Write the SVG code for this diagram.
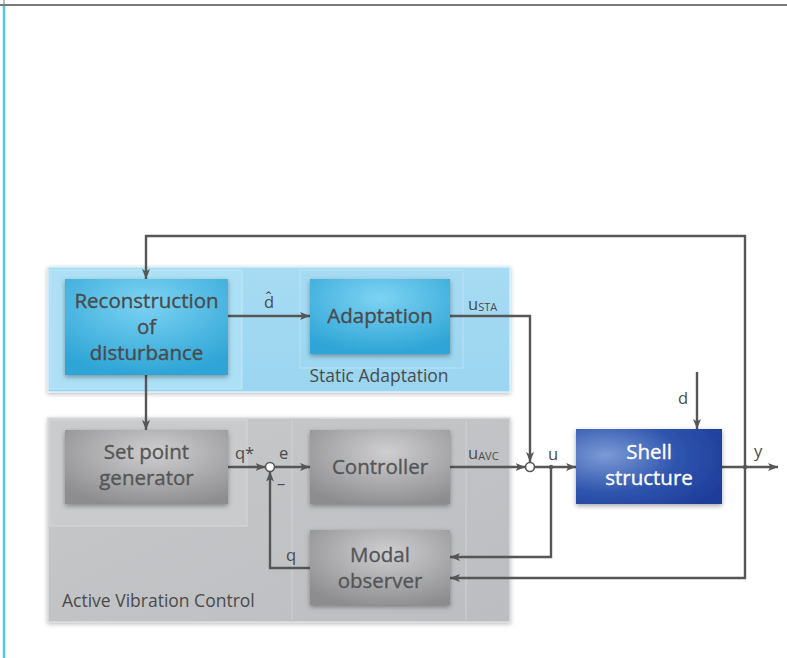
<svg xmlns="http://www.w3.org/2000/svg" width="787" height="658" viewBox="0 0 787 658">
  <style>
    .lbl { font-family: "Open Sans", "DejaVu Sans", sans-serif; fill: #4a4a4a; }
    .box { font-size: 20.5px; text-anchor: middle; stroke: #4a4a4a; stroke-width: 0.35; }
    .gbox { fill: #555555; stroke: #555555; }
    .wbox { fill: #ffffff; stroke: #ffffff; }
    .sig { font-size: 16.5px; }
    .sub { font-size: 11px; }
    .panel { font-size: 17.5px; }
    .wire-a { fill: none; stroke: #565656; stroke-width: 2.4; marker-end: url(#arr); }
    .sum { fill: #ffffff; stroke: #565656; stroke-width: 1.6; }
  </style>
  <defs>
    <marker id="arr" viewBox="0 0 10 8" refX="10" refY="4" markerWidth="10" markerHeight="8" markerUnits="userSpaceOnUse" orient="auto">
      <path d="M0,0 L10,4 L0,8 L2.5,4 Z" fill="#565656"/>
    </marker>
    <filter id="shadow" x="-20%" y="-20%" width="140%" height="150%">
      <feDropShadow dx="0" dy="2" stdDeviation="2.5" flood-color="#000" flood-opacity="0.35"/>
    </filter>
    <filter id="pshadow" x="-5%" y="-5%" width="110%" height="115%">
      <feDropShadow dx="0" dy="1.5" stdDeviation="2" flood-color="#000" flood-opacity="0.25"/>
    </filter>
    <radialGradient id="gBlue" cx="0.5" cy="0.25" r="0.75">
      <stop offset="0" stop-color="#7dd3f3"/>
      <stop offset="1" stop-color="#2ea5d6"/>
    </radialGradient>
    <radialGradient id="gGray" cx="0.55" cy="0.3" r="0.75">
      <stop offset="0" stop-color="#cfcfd1"/>
      <stop offset="1" stop-color="#8d8d90"/>
    </radialGradient>
    <radialGradient id="gShell" cx="0.2" cy="0.35" r="0.9">
      <stop offset="0" stop-color="#7c9ad6"/>
      <stop offset="0.55" stop-color="#2f55ae"/>
      <stop offset="1" stop-color="#1f3c9a"/>
    </radialGradient>
    <linearGradient id="gPanelBlue" x1="0" y1="0" x2="0" y2="1">
      <stop offset="0" stop-color="#a7dbf3"/>
      <stop offset="1" stop-color="#9bd5f0"/>
    </linearGradient>
    <linearGradient id="gPanelGray" x1="0" y1="0" x2="1" y2="1">
      <stop offset="0" stop-color="#c8c9cb"/>
      <stop offset="1" stop-color="#bcbdc0"/>
    </linearGradient>
  </defs>

  <!-- page frame -->
  <line x1="0" y1="5" x2="787" y2="5" stroke="#7a7a7a" stroke-width="2"/>
  <line x1="4" y1="0" x2="4" y2="5" stroke="#7a7a7a" stroke-width="1"/>
  <line x1="4" y1="6" x2="4" y2="658" stroke="#4ec6ee" stroke-width="2.5"/>

  <!-- Static Adaptation panel -->
  <g id="panel-static">
    <rect x="48" y="267" width="462" height="125" fill="url(#gPanelBlue)" stroke="#d8effa" stroke-width="1.5" filter="url(#pshadow)"/>
    <rect x="50" y="270" width="192" height="119" fill="#ade0f5" stroke="#bfe7f8" stroke-width="1"/>
    <rect x="300" y="270" width="163" height="98" fill="none" stroke="#b6e3f7" stroke-width="1"/>
    <text class="lbl panel" x="379" y="382" text-anchor="middle">Static Adaptation</text>
  </g>

  <!-- Active Vibration Control panel -->
  <g id="panel-avc">
    <rect x="48" y="418" width="462" height="204" fill="url(#gPanelGray)" stroke="#dcdcde" stroke-width="1.5" filter="url(#pshadow)"/>
    <rect x="50" y="420" width="197" height="106" fill="#cacbcd" stroke="#d6d7d9" stroke-width="1"/>
    <line x1="292" y1="420" x2="292" y2="620" stroke="#d0d1d3" stroke-width="1"/>
    <line x1="466" y1="420" x2="466" y2="620" stroke="#d0d1d3" stroke-width="1"/>
    <text class="lbl panel" x="62" y="607">Active Vibration Control</text>
  </g>

  <!-- connectors -->
  <g id="connectors">
    <!-- y feedback to reconstruction -->
    <polyline class="wire-a" points="745,467 745,236 146,236 146,279"/>
    <!-- reconstruction to set point generator -->
    <line class="wire-a" x1="146" y1="375" x2="146" y2="430"/>
    <!-- d-hat -->
    <line class="wire-a" x1="228" y1="316" x2="310" y2="316"/>
    <!-- u_STA -->
    <polyline class="wire-a" points="450,316 530,316 530,462"/>
    <!-- q* -->
    <line class="wire-a" x1="228" y1="467" x2="265.5" y2="467"/>
    <!-- e -->
    <line class="wire-a" x1="274.5" y1="467" x2="310" y2="467"/>
    <!-- q feedback -->
    <polyline class="wire-a" points="310,568 270,568 270,471.5"/>
    <!-- u_AVC -->
    <line class="wire-a" x1="450" y1="467" x2="525.5" y2="467"/>
    <!-- u -->
    <line class="wire-a" x1="534.5" y1="467" x2="576" y2="467"/>
    <!-- u to modal observer -->
    <polyline class="wire-a" points="551,467 551,557 450,557"/>
    <!-- d -->
    <line class="wire-a" x1="697" y1="372" x2="697" y2="429"/>
    <!-- y output -->
    <line class="wire-a" x1="722" y1="467" x2="778" y2="467"/>
    <!-- y to modal observer -->
    <polyline class="wire-a" points="745,467 745,578 450,578"/>
    <!-- junctions and summing points -->
    <circle cx="551" cy="467" r="2.2" fill="#565656"/>
    <circle cx="745" cy="467" r="2.2" fill="#565656"/>
    <circle class="sum" cx="530" cy="467" r="4.5"/>
    <circle class="sum" cx="270" cy="467" r="4.5"/>
    <!-- signal labels -->
    <text class="lbl sig" x="264" y="308">d̂</text>
    <text class="lbl sig" x="468" y="310">u<tspan class="sub" dy="1">STA</tspan></text>
    <text class="lbl sig" x="468" y="459">u<tspan class="sub" dy="1">AVC</tspan></text>
    <text class="lbl sig" x="235" y="459">q*</text>
    <text class="lbl sig" x="279" y="459">e</text>
    <text class="lbl sig" x="277" y="489">–</text>
    <text class="lbl sig" x="286" y="561">q</text>
    <text class="lbl sig" x="548" y="460">u</text>
    <text class="lbl sig" x="678" y="404">d</text>
    <text class="lbl sig" x="754" y="457">y</text>
  </g>

  <!-- blocks -->
  <g id="reconstruction">
    <rect x="65" y="279" width="163" height="96" fill="url(#gBlue)" filter="url(#shadow)"/>
    <text class="lbl box" x="146.5" y="308">Reconstruction</text>
    <text class="lbl box" x="146.5" y="334">of</text>
    <text class="lbl box" x="146.5" y="360">disturbance</text>
  </g>
  <g id="adaptation">
    <rect x="310" y="279" width="140" height="75" fill="url(#gBlue)" filter="url(#shadow)"/>
    <text class="lbl box" x="380" y="323">Adaptation</text>
  </g>
  <g id="setpoint">
    <rect x="65" y="430" width="163" height="74" fill="url(#gGray)" filter="url(#shadow)"/>
    <text class="lbl box gbox" x="146.5" y="459">Set point</text>
    <text class="lbl box gbox" x="146.5" y="485">generator</text>
  </g>
  <g id="controller">
    <rect x="310" y="430" width="140" height="74" fill="url(#gGray)" filter="url(#shadow)"/>
    <text class="lbl box gbox" x="380" y="474">Controller</text>
  </g>
  <g id="observer">
    <rect x="310" y="530" width="140" height="75" fill="url(#gGray)" filter="url(#shadow)"/>
    <text class="lbl box gbox" x="380" y="562">Modal</text>
    <text class="lbl box gbox" x="380" y="588">observer</text>
  </g>
  <g id="shell">
    <rect x="576" y="429" width="146" height="75" fill="url(#gShell)" filter="url(#shadow)"/>
    <text class="lbl box wbox" x="649" y="459">Shell</text>
    <text class="lbl box wbox" x="649" y="485">structure</text>
  </g>
</svg>
